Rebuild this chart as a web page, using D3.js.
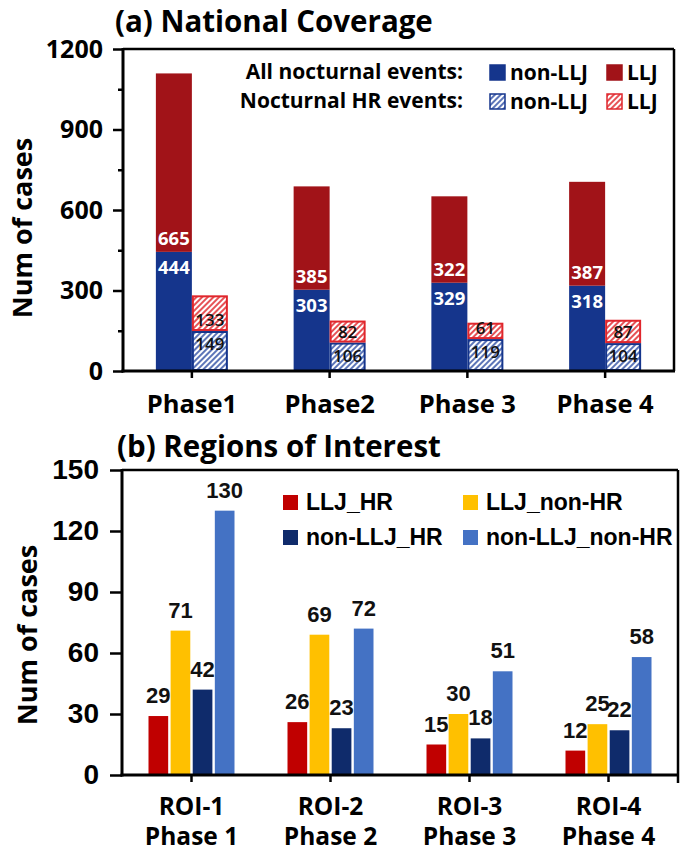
<!DOCTYPE html>
<html>
<head>
<meta charset="utf-8">
<script src="https://cdn.jsdelivr.net/npm/d3@7"></script>
<style>
  body { margin: 0; background: #fff; }
  svg { display: block; }
</style>
</head>
<body>
<svg id="chart" width="696" height="856"></svg>
<script>
// (a) National coverage
const phasesA = ["Phase1", "Phase2", "Phase 3", "Phase 4"];
const allNonLLJ = [444, 303, 329, 318];
const allLLJ = [665, 385, 322, 387];
const hrNonLLJ = [149, 106, 119, 104];
const hrLLJ = [133, 82, 61, 87];
const ticksA = [0, 300, 600, 900, 1200];
const minorTicksA = [150, 450, 750, 1050];

// (b) Regions of interest
const roiNames = ["ROI-1", "ROI-2", "ROI-3", "ROI-4"];
const roiPhases = ["Phase 1", "Phase 2", "Phase 3", "Phase 4"];
const seriesNames = ["LLJ_HR", "LLJ_non-HR", "non-LLJ_HR", "non-LLJ_non-HR"];
const lljHR = [29, 26, 15, 12];
const lljNonHR = [71, 69, 30, 25];
const nonLljHR = [42, 23, 18, 22];
const nonLljNonHR = [130, 72, 51, 58];
const ticksB = [0, 30, 60, 90, 120, 150];

const BLUE = "#15358c", RED = "#a11318", HR_RED = "#e0262c";
const colorsB = ["#c00000", "#ffc000", "#0f2b6b", "#4472c4"];
const OPEN = "'Open Sans', 'DejaVu Sans', sans-serif";
const ARIAL = "'Liberation Sans', Arial, sans-serif";

const svg = d3.select("#chart");
const defs = svg.append("defs");

function hatch(id, color) {
  const p = defs.append("pattern")
    .attr("id", id)
    .attr("patternUnits", "userSpaceOnUse")
    .attr("width", 4).attr("height", 4)
    .attr("patternTransform", "rotate(45)");
  p.append("rect").attr("width", 4).attr("height", 4).attr("fill", "#fff");
  p.append("line")
    .attr("x1", 1).attr("y1", 0).attr("x2", 1).attr("y2", 4)
    .attr("stroke", color).attr("stroke-width", 1.6);
}
hatch("hatchBlue", "#3352a6");
hatch("hatchRed", HR_RED);

function frame(g, b) {
  g.append("line").attr("x1", b.left).attr("x2", b.right).attr("y1", b.top).attr("y2", b.top)
    .attr("stroke", "#000").attr("stroke-width", 2.5);
  g.append("line").attr("x1", b.right).attr("x2", b.right).attr("y1", b.top).attr("y2", b.bottom)
    .attr("stroke", "#000").attr("stroke-width", 2.5);
  g.append("line").attr("x1", b.left).attr("x2", b.left).attr("y1", b.top - 1).attr("y2", b.bottom + 1.5)
    .attr("stroke", "#000").attr("stroke-width", 3);
  g.append("line").attr("x1", b.left - 1.5).attr("x2", b.right + 1).attr("y1", b.bottom).attr("y2", b.bottom)
    .attr("stroke", "#000").attr("stroke-width", 3);
}

function styleAxis(g, family, size) {
  g.select(".domain").remove();
  g.attr("font-family", family).attr("font-size", size).attr("font-weight", "bold");
  g.selectAll(".tick line").attr("stroke-width", 2.5);
  g.selectAll(".tick text").attr("fill", "#000");
}

// ---------------- Panel (a) ----------------
const A = { left: 123, right: 674, top: 49, bottom: 371 };
const xA = d3.scaleBand().domain(phasesA).range([A.left, A.right]);
const yA = d3.scaleLinear().domain([0, 1200]).range([A.bottom, A.top]);
const barW = 36;

const rowsA = phasesA.map((p, i) => ({
  p, nl: allNonLLJ[i], l: allLLJ[i], hn: hrNonLLJ[i], hl: hrLLJ[i]
}));
const cxA = d => xA(d.p) + xA.bandwidth() / 2;

const gA = svg.append("g").attr("font-family", OPEN).attr("font-weight", "bold");

gA.append("text")
  .attr("x", 115).attr("y", 32)
  .attr("font-size", 29.5)
  .text("(a) National Coverage");

// all nocturnal events, stacked
gA.append("g").selectAll("rect").data(rowsA).join("rect")
  .attr("x", d => cxA(d) - barW).attr("width", barW)
  .attr("y", d => yA(d.nl)).attr("height", d => yA(0) - yA(d.nl))
  .attr("fill", BLUE);
gA.append("g").selectAll("rect").data(rowsA).join("rect")
  .attr("x", d => cxA(d) - barW).attr("width", barW)
  .attr("y", d => yA(d.nl + d.l)).attr("height", d => yA(d.nl) - yA(d.nl + d.l))
  .attr("fill", RED);

// nocturnal HR events, stacked and hatched
gA.append("g").selectAll("rect").data(rowsA).join("rect")
  .attr("x", d => cxA(d) + 1).attr("width", barW - 2)
  .attr("y", d => yA(d.hn) + 1).attr("height", d => yA(0) - yA(d.hn) - 2)
  .attr("fill", "url(#hatchBlue)").attr("stroke", BLUE).attr("stroke-width", 2);
gA.append("g").selectAll("rect").data(rowsA).join("rect")
  .attr("x", d => cxA(d) + 1).attr("width", barW - 2)
  .attr("y", d => yA(d.hn + d.hl) + 1).attr("height", d => yA(d.hn) - yA(d.hn + d.hl) - 2)
  .attr("fill", "url(#hatchRed)").attr("stroke", HR_RED).attr("stroke-width", 2);

// value labels
const labA = gA.append("g").attr("font-size", 18.5).attr("text-anchor", "middle");
labA.selectAll(".l").data(rowsA).join("text")
  .attr("x", d => cxA(d) - barW / 2).attr("y", d => yA(d.nl) - 7)
  .attr("fill", "#fff").text(d => d.l);
labA.selectAll(".nl").data(rowsA).join("text")
  .attr("x", d => cxA(d) - barW / 2).attr("y", d => yA(d.nl) + 22)
  .attr("fill", "#fff").text(d => d.nl);
labA.selectAll(".hl").data(rowsA).join("text")
  .attr("x", d => cxA(d) + barW / 2).attr("y", d => yA(d.hn) - 5)
  .attr("fill", "#111").attr("font-weight", 600).attr("font-size", 17).text(d => d.hl);
labA.selectAll(".hn").data(rowsA).join("text")
  .attr("x", d => cxA(d) + barW / 2).attr("y", d => yA(d.hn) + 19)
  .attr("fill", "#111").attr("font-weight", 600).attr("font-size", 17).text(d => d.hn);

// axes
gA.append("g").attr("transform", `translate(${A.left},0)`)
  .call(d3.axisLeft(yA).tickValues(minorTicksA).tickSize(5).tickFormat(""))
  .call(g => styleAxis(g, OPEN, 24));
gA.append("g").attr("transform", `translate(${A.left},0)`)
  .call(d3.axisLeft(yA).tickValues(ticksA).tickSize(10).tickPadding(10).tickFormat(d3.format("d")))
  .call(g => styleAxis(g, OPEN, 25));
gA.append("g").attr("transform", `translate(0,${A.bottom})`)
  .call(d3.axisBottom(xA).tickSize(7).tickPadding(17))
  .call(g => styleAxis(g, OPEN, 25.5));
frame(gA, A);

gA.append("text")
  .attr("transform", "translate(32,228) rotate(-90)")
  .attr("text-anchor", "middle").attr("font-size", 27)
  .text("Num of cases");

// legend (a)
const legA = gA.append("g").attr("font-size", 21);
const legRowsA = [
  { label: "All nocturnal events:", y: 72, fills: [BLUE, RED], strokes: [BLUE, RED] },
  { label: "Nocturnal HR events:", y: 101, fills: ["url(#hatchBlue)", "url(#hatchRed)"], strokes: [BLUE, HR_RED] }
];
legRowsA.forEach(r => {
  legA.append("text").attr("x", 463).attr("y", r.y + 7).attr("text-anchor", "end").text(r.label);
  [[489, "non-LLJ"], [606, "LLJ"]].forEach(([x, t], k) => {
    legA.append("rect").attr("x", x + 1).attr("y", r.y - 7).attr("width", 15).attr("height", 15)
      .attr("fill", r.fills[k]).attr("stroke", r.strokes[k]).attr("stroke-width", 1.5);
    legA.append("text").attr("x", x + 21).attr("y", r.y + 7.5).text(t);
  });
});

// ---------------- Panel (b) ----------------
const B = { left: 122, right: 678, top: 470, bottom: 775 };
const xB = d3.scaleBand().domain(roiNames).range([B.left, B.right]);
const xSub = d3.scaleBand().domain(seriesNames).range([-43, 43]).paddingInner(0.11);
const yB = d3.scaleLinear().domain([0, 150]).range([B.bottom, B.top]);

const seriesB = [lljHR, lljNonHR, nonLljHR, nonLljNonHR].map((vals, s) => ({
  name: seriesNames[s], color: colorsB[s],
  pts: vals.map((v, i) => ({ roi: roiNames[i], v }))
}));
const cxB = roi => xB(roi) + xB.bandwidth() / 2;

const gB = svg.append("g").attr("font-family", OPEN).attr("font-weight", "bold");

gB.append("text")
  .attr("x", 117).attr("y", 457)
  .attr("font-size", 29.5)
  .text("(b) Regions of Interest");

const sg = gB.append("g").selectAll("g").data(seriesB).join("g").attr("fill", d => d.color);
sg.selectAll("rect").data(d => d.pts.map(p => ({ ...p, name: d.name }))).join("rect")
  .attr("x", d => cxB(d.roi) + xSub(d.name)).attr("width", xSub.bandwidth())
  .attr("y", d => yB(d.v)).attr("height", d => yB(0) - yB(d.v));
sg.selectAll("text").data(d => d.pts.map(p => ({ ...p, name: d.name }))).join("text")
  .attr("x", d => cxB(d.roi) + xSub(d.name) + xSub.bandwidth() / 2)
  .attr("y", d => yB(d.v) - 13)
  .attr("text-anchor", "middle").attr("fill", "#111")
  .attr("font-family", ARIAL).attr("font-size", 22)
  .text(d => d.v);

gB.append("g").attr("transform", `translate(${B.left},0)`)
  .call(d3.axisLeft(yB).tickValues(ticksB).tickSize(12).tickPadding(11))
  .call(g => styleAxis(g, ARIAL, 28));
gB.append("g").attr("transform", `translate(0,${B.bottom})`)
  .call(d3.axisBottom(xB).tickSize(7).tickPadding(16))
  .call(g => styleAxis(g, OPEN, 24.5))
  .call(g => g.selectAll(".tick text").each(function (d, i) {
    const t = d3.select(this);
    t.text(null);
    t.append("tspan").attr("x", 0).text(d);
    t.append("tspan").attr("x", 0).attr("dy", "1.22em").text(roiPhases[i]);
  }));
gB.append("g").selectAll("line").data([B.right]).join("line")
  .attr("x1", d => d).attr("x2", d => d)
  .attr("y1", B.bottom).attr("y2", B.bottom + 8)
  .attr("stroke", "#000").attr("stroke-width", 2.5);
frame(gB, B);

gB.append("text")
  .attr("transform", "translate(37,635) rotate(-90)")
  .attr("text-anchor", "middle").attr("font-size", 27)
  .text("Num of cases");

// legend (b)
const legB = gB.append("g").attr("font-family", ARIAL).attr("font-size", 23);
const legPos = [[283, 502], [463, 502], [283, 537], [463, 537]];
seriesB.forEach((s, k) => {
  const [x, y] = legPos[k];
  legB.append("rect").attr("x", x).attr("y", y - 7).attr("width", 15).attr("height", 15).attr("fill", s.color);
  legB.append("text").attr("x", x + 23).attr("y", y + 8).text(s.name);
});
</script>
</body>
</html>
